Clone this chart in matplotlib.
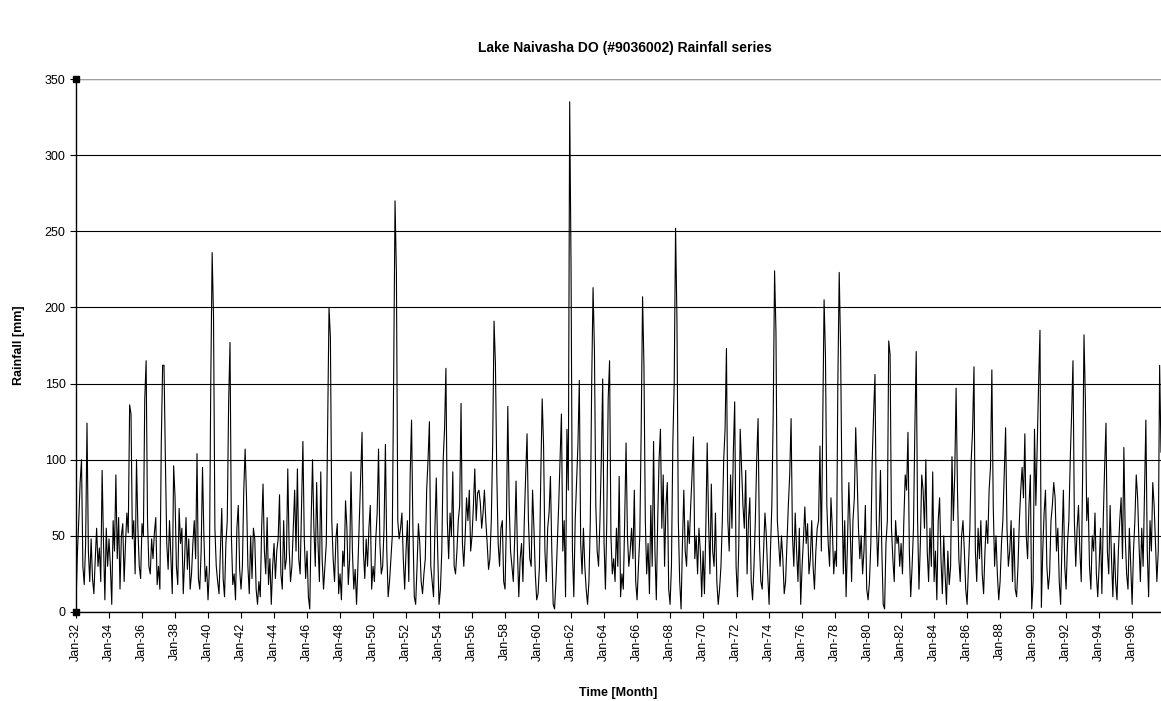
import numpy as np
import matplotlib.pyplot as plt

plt.rcParams['font.family'] = ['Liberation Sans', 'DejaVu Sans']

# Monthly rainfall [mm], Lake Naivasha DO station, one row per year, starting Jan 1932
rain_1930s = [
    [5, 38, 60, 85, 100, 30, 18, 45, 124, 40, 20, 48],      # 1932
    [22, 12, 35, 55, 30, 42, 20, 93, 45, 8, 55, 30],        # 1933
    [48, 30, 5, 60, 40, 90, 35, 62, 15, 50, 58, 20],        # 1934
    [45, 65, 52, 136, 130, 48, 60, 25, 100, 55, 30, 22],    # 1935
    [58, 50, 140, 165, 60, 30, 25, 48, 35, 52, 62, 18],     # 1936
    [30, 15, 110, 162, 162, 100, 45, 28, 60, 35, 12, 96],   # 1937
    [76, 30, 18, 68, 45, 55, 12, 35, 62, 28, 48, 15],       # 1938
    [25, 45, 60, 35, 104, 22, 15, 40, 95, 50, 20, 30],      # 1939
]
rain_1940s = [
    [8, 28, 150, 236, 194, 55, 30, 20, 12, 40, 68, 22],
    [10, 45, 60, 138, 177, 50, 18, 25, 8, 55, 70, 28],
    [15, 30, 80, 107, 75, 30, 12, 50, 22, 55, 48, 15],
    [5, 20, 10, 55, 84, 40, 25, 62, 18, 35, 5, 30],
    [45, 22, 40, 48, 77, 25, 15, 60, 28, 35, 94, 42],
    [20, 30, 55, 80, 40, 94, 35, 25, 70, 112, 48, 22],
    [40, 10, 2, 60, 100, 55, 30, 85, 45, 20, 92, 35],
    [15, 30, 45, 120, 200, 180, 60, 35, 20, 48, 58, 12],
    [25, 8, 40, 30, 73, 55, 18, 35, 92, 40, 15, 28],
    [5, 30, 60, 90, 118, 40, 22, 48, 30, 55, 70, 15],
]
rain_1950s = [
    [30, 20, 48, 65, 107, 45, 25, 30, 55, 110, 40, 10],
    [20, 35, 50, 155, 270, 222, 60, 48, 55, 65, 35, 15],
    [40, 60, 20, 90, 126, 55, 10, 5, 30, 58, 45, 20],
    [12, 25, 35, 80, 100, 125, 30, 20, 10, 55, 88, 40],
    [5, 15, 40, 100, 120, 160, 60, 35, 65, 50, 92, 30],
    [25, 40, 60, 70, 137, 45, 30, 50, 75, 60, 80, 40],
    [50, 70, 94, 60, 78, 80, 72, 55, 65, 80, 60, 45],
    [28, 35, 60, 110, 191, 163, 90, 45, 30, 55, 60, 20],
    [15, 60, 135, 70, 40, 30, 20, 48, 86, 40, 10, 35],
    [45, 20, 60, 90, 117, 60, 35, 30, 80, 55, 25, 8],
]
rain_1960s = [
    [12, 30, 90, 140, 110, 40, 20, 55, 65, 89, 40, 5],
    [2, 20, 45, 70, 100, 130, 40, 60, 10, 120, 80, 335],
    [226, 40, 10, 60, 85, 110, 152, 45, 25, 55, 30, 15],
    [5, 20, 60, 150, 213, 172, 70, 40, 30, 60, 100, 153],
    [45, 15, 60, 140, 165, 50, 25, 35, 20, 55, 30, 89],
    [10, 25, 15, 60, 111, 50, 30, 40, 55, 35, 80, 20],
    [8, 30, 50, 120, 207, 162, 60, 25, 45, 12, 70, 30],
    [112, 40, 8, 60, 100, 120, 55, 90, 30, 70, 85, 15],
    [5, 30, 110, 150, 252, 192, 60, 20, 2, 45, 80, 40],
    [30, 60, 45, 70, 90, 115, 35, 50, 25, 55, 40, 10],
]
rain_1970s = [
    [40, 12, 55, 111, 60, 25, 84, 40, 30, 65, 20, 5],
    [15, 30, 60, 100, 120, 173, 60, 40, 90, 55, 105, 138],
    [30, 10, 45, 120, 95, 70, 55, 93, 25, 60, 75, 20],
    [8, 30, 60, 100, 127, 45, 20, 15, 40, 65, 50, 25],
    [5, 40, 70, 130, 224, 184, 60, 45, 30, 50, 35, 12],
    [20, 45, 70, 90, 127, 50, 30, 65, 40, 20, 55, 5],
    [30, 48, 69, 45, 58, 25, 35, 60, 30, 15, 40, 55],
    [60, 109, 40, 120, 205, 168, 70, 45, 30, 75, 55, 25],
    [40, 30, 150, 223, 173, 80, 25, 60, 10, 45, 85, 55],
    [20, 60, 75, 121, 90, 55, 35, 50, 25, 40, 70, 15],
]
rain_1980s = [
    [8, 20, 45, 100, 130, 156, 60, 30, 55, 93, 40, 5],
    [2, 45, 60, 178, 169, 55, 35, 20, 60, 45, 50, 30],
    [45, 25, 60, 90, 80, 118, 40, 10, 30, 55, 120, 171],
    [60, 15, 45, 90, 80, 55, 100, 40, 20, 55, 30, 92],
    [20, 40, 8, 60, 75, 35, 12, 50, 25, 5, 40, 18],
    [30, 102, 60, 90, 147, 80, 35, 20, 50, 60, 40, 15],
    [5, 30, 55, 100, 120, 161, 40, 20, 55, 35, 60, 25],
    [12, 40, 60, 45, 80, 95, 159, 70, 30, 50, 25, 8],
    [20, 45, 60, 90, 121, 55, 30, 40, 60, 20, 55, 15],
    [10, 30, 60, 80, 95, 75, 117, 50, 35, 70, 90, 2],
]
rain_1990s = [
    [20, 120, 70, 110, 150, 185, 3, 40, 65, 80, 30, 15],
    [25, 60, 70, 85, 75, 40, 55, 20, 5, 45, 80, 30],
    [15, 45, 60, 100, 130, 165, 60, 30, 55, 70, 40, 20],
    [90, 182, 140, 60, 75, 30, 15, 50, 40, 65, 25, 10],
    [30, 55, 12, 60, 95, 124, 40, 25, 70, 35, 10, 45],
    [20, 8, 40, 60, 75, 35, 108, 50, 25, 15, 55, 30],
    [5, 40, 60, 90, 75, 45, 20, 55, 30, 80, 126, 40],
    [10, 60, 40, 85, 70, 45, 20, 40, 162, 105],             # 1997 (to Oct)
]

label_years = list(range(32, 97, 2))

rain = np.concatenate([np.ravel(np.concatenate(d)) for d in
                       (rain_1930s, rain_1940s, rain_1950s, rain_1960s,
                        rain_1970s, rain_1980s, rain_1990s)])
months = np.arange(len(rain))

fig = plt.figure(figsize=(11.61, 7.01), dpi=100)
ax = fig.add_axes([76 / 1161, 89 / 701, 1 - 76 / 1161, 533 / 701])

ax.plot(months, rain, color='black', linewidth=0.8)

ax.set_xlim(0, len(rain) - 1)
ax.set_ylim(0, 350)
ax.set_yticks(np.arange(0, 351, 50))
ax.set_xticks([(y - 32) * 12 for y in label_years])
ax.set_xticklabels([f'Jan-{y:02d}' for y in label_years], rotation=90)

ax.grid(axis='y', color='black', linewidth=0.8)
ax.set_axisbelow(True)
ax.axhline(350, color='#a0a0a0', linewidth=1.0)

for s in ('top', 'right'):
    ax.spines[s].set_visible(False)
ax.spines['left'].set_linewidth(1.0)
ax.spines['bottom'].set_linewidth(1.0)
ax.tick_params(axis='both', labelsize=9, length=4, width=0.8, direction='out')

# small handle squares at both ends of the value axis
ax.plot([0, 0], [0, 350], linestyle='none', marker='s', markersize=4,
        color='black', clip_on=False, zorder=5)

ax.set_ylabel('Rainfall [mm]', fontsize=9, fontweight='bold', labelpad=14)
ax.set_xlabel('Time [Month]', fontsize=9, fontweight='bold', labelpad=19)
fig.suptitle('Lake Naivasha DO (#9036002) Rainfall series', fontsize=10,
             fontweight='bold', x=0.5 + 44 / 1161, y=0.942)

fig.savefig('out.png', dpi=100)
